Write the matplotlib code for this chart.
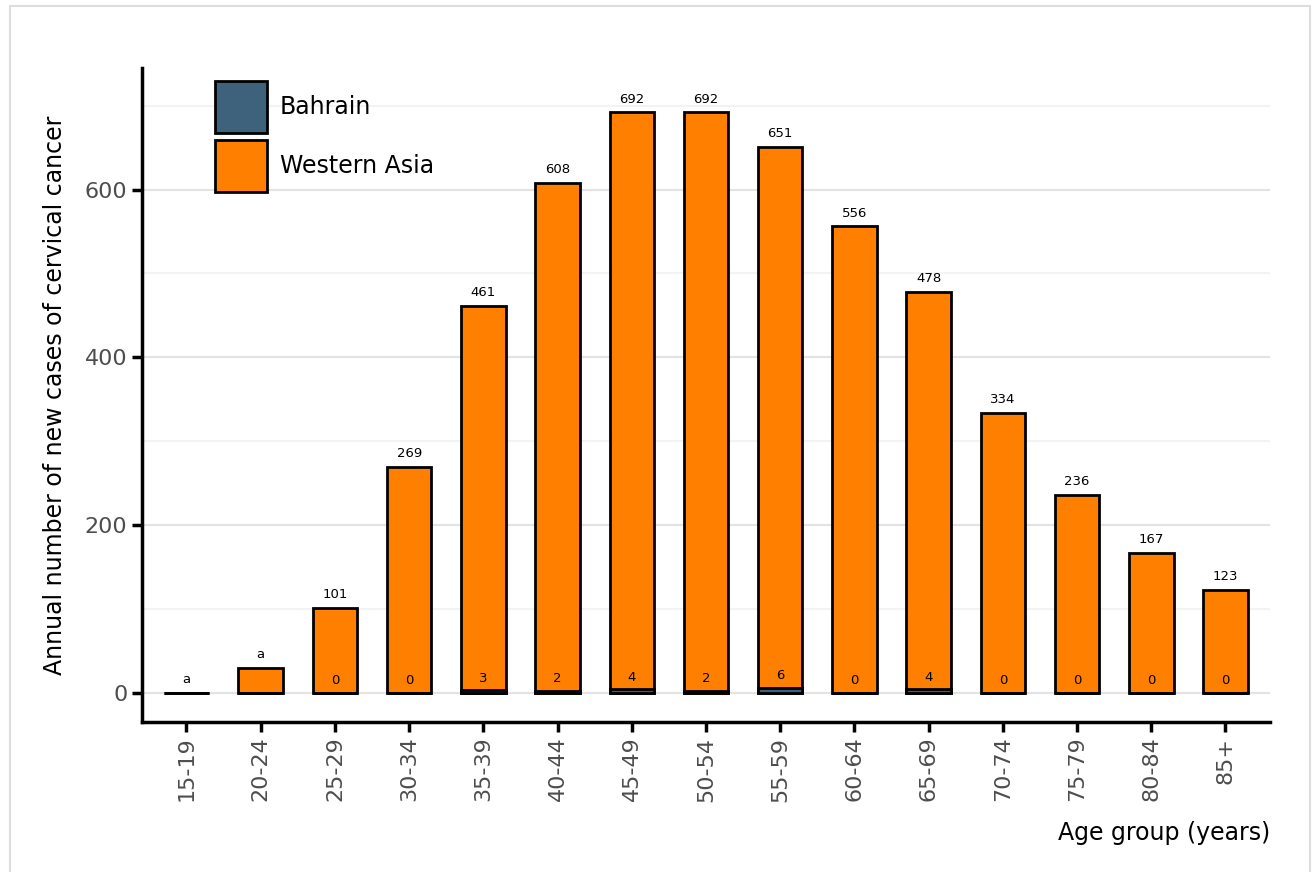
import matplotlib.pyplot as plt
import matplotlib.patches as mpatches
import numpy as np

# Age groups and annual new cervical cancer cases
age_groups = ['15-19', '20-24', '25-29', '30-34', '35-39', '40-44', '45-49',
              '50-54', '55-59', '60-64', '65-69', '70-74', '75-79', '80-84', '85+']
western_asia = [0, 30, 101, 269, 461, 608, 692, 692, 651, 556, 478, 334, 236, 167, 123]
bahrain = [0, 0, 0, 0, 3, 2, 4, 2, 6, 0, 4, 0, 0, 0, 0]
top_labels = ['a', 'a', '101', '269', '461', '608', '692', '692', '651', '556',
              '478', '334', '236', '167', '123']
bottom_labels = ['', '', '0', '0', '3', '2', '4', '2', '6', '0', '4', '0', '0', '0', '0']

orange = '#FF7F00'
blue = '#3F627C'

fig = plt.figure(figsize=(13.12, 8.72), dpi=100)
ax = fig.add_axes([0.1082, 0.172, 0.8598, 0.75])

x = np.arange(len(age_groups))
ax.bar(x, western_asia, width=0.6, color=orange, edgecolor='black', linewidth=2,
       label='Western Asia', zorder=3)
ax.bar(x, bahrain, width=0.6, color=blue, edgecolor='black', linewidth=2,
       label='Bahrain', zorder=4)

for i in range(len(x)):
    ax.annotate(top_labels[i], (x[i], western_asia[i]), xytext=(0, 5),
                textcoords='offset points', ha='center', va='bottom', fontsize=9.5, zorder=5)
    if bottom_labels[i]:
        ax.annotate(bottom_labels[i], (x[i], bahrain[i]), xytext=(0, 4),
                    textcoords='offset points', ha='center', va='bottom', fontsize=9.5, zorder=5)

ax.set_xlim(-0.6, 14.6)
ax.set_ylim(-35, 745)
ax.set_xticks(x)
ax.set_xticklabels(age_groups, rotation=90)
ax.set_yticks([0, 200, 400, 600])
ax.set_yticks([100, 300, 500, 700], minor=True)
ax.grid(axis='y', which='major', color='#E3E3E3', linewidth=1.5, zorder=0)
ax.grid(axis='y', which='minor', color='#F3F3F3', linewidth=1.5, zorder=0)
ax.tick_params(axis='y', which='minor', length=0)
ax.tick_params(axis='both', which='major', labelsize=16, labelcolor='#4D4D4D',
               width=2.5, length=7, color='black')

for side in ['top', 'right']:
    ax.spines[side].set_visible(False)
for side in ['left', 'bottom']:
    ax.spines[side].set_linewidth(2.5)

ax.set_ylabel('Annual number of new cases of cervical cancer', fontsize=17, labelpad=13)
ax.set_xlabel('Age group (years)', fontsize=17, loc='right', labelpad=14)

handles = [mpatches.Patch(facecolor=blue, edgecolor='black', linewidth=2, label='Bahrain'),
           mpatches.Patch(facecolor=orange, edgecolor='black', linewidth=2, label='Western Asia')]
ax.legend(handles=handles, loc='upper left', bbox_to_anchor=(0.05, 1.005), frameon=False,
          fontsize=17, handlelength=2.2, handleheight=3.0, labelspacing=0.3,
          handletextpad=0.55, borderaxespad=0.3)

# light frame around the figure
fig.patches.append(mpatches.Rectangle((10 / 1312, -0.1), 1300 / 1312, 1.093,
                                      transform=fig.transFigure, fill=False,
                                      edgecolor='#DDDDDD', linewidth=1.5))

fig.savefig('out.png', dpi=100)
